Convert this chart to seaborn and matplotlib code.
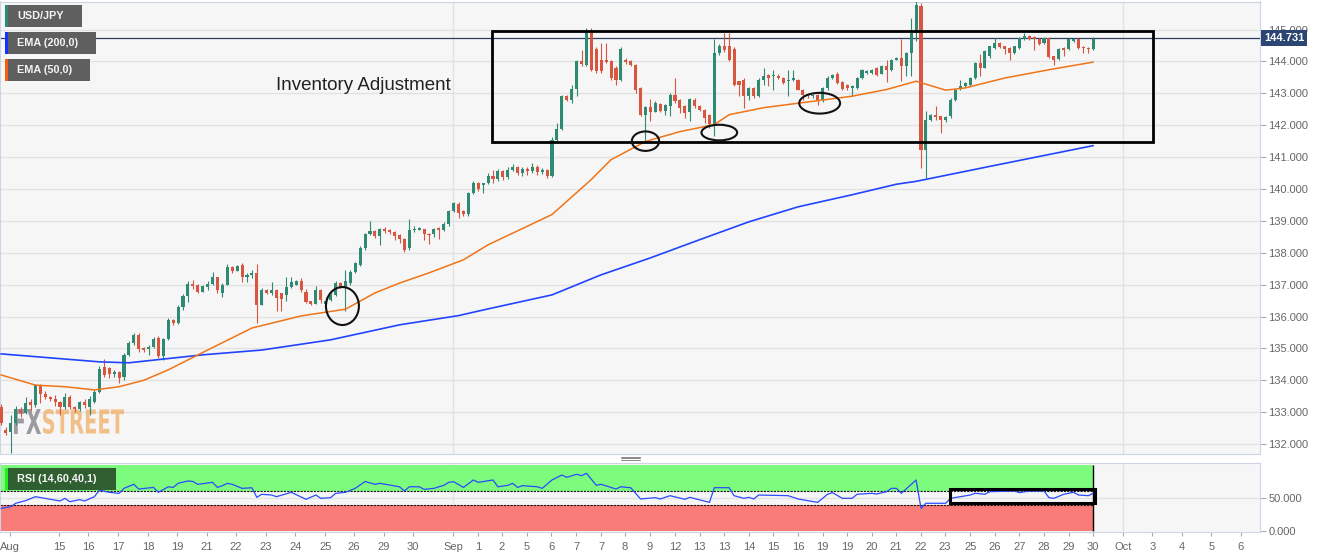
import numpy as np
import pandas as pd
import matplotlib
matplotlib.use('Agg')
import matplotlib.pyplot as plt
import matplotlib.transforms as mtransforms
from matplotlib.patches import Rectangle, Ellipse, PathPatch
from matplotlib.lines import Line2D
from matplotlib.textpath import TextPath
from matplotlib.font_manager import FontProperties
import seaborn as sns

# USD/JPY 4h candles (Aug 12 - Sep 30)
opens = [
    133.16, 132.44, 132.39, 132.65, 133.07, 132.98, 133.33, 133.23, 133.82, 133.57,
    133.48, 133.41, 133.33, 133.17, 133.49, 133.17, 133.10, 133.33, 133.16, 133.33,
    133.64, 134.43, 134.38, 134.20, 134.25, 134.09, 134.80, 135.16, 135.42, 135.00,
    134.97, 135.06, 135.32, 134.76, 135.29, 135.90, 135.80, 136.31, 136.65, 137.01,
    136.98, 136.78, 136.94, 137.01, 137.23, 136.75, 136.99, 137.55, 137.44, 137.62,
    137.25, 137.30, 137.36, 136.37, 136.82, 136.73, 136.82, 136.73, 136.68, 136.94,
    137.00, 137.10, 136.78, 136.48, 136.40, 136.84, 136.40, 136.52, 136.68, 137.05,
    136.94, 137.05, 137.41, 137.62, 138.15, 138.60, 138.69, 138.53, 138.75, 138.72,
    138.66, 138.56, 138.43, 138.15, 138.72, 138.72, 138.74, 138.60, 138.60, 138.77,
    138.72, 138.91, 139.32, 139.54, 139.32, 139.22, 139.89, 140.19, 140.13, 140.19,
    140.42, 140.30, 140.55, 140.38, 140.60, 140.68, 140.50, 140.62, 140.55, 140.70,
    140.52, 140.60, 140.42, 141.55, 141.88, 142.91, 142.80, 143.14, 144.01, 143.90,
    144.93, 144.40, 144.06, 144.06, 144.01, 143.80, 143.43, 144.06, 144.01, 143.90,
    143.17, 142.33, 142.56, 142.43, 142.68, 142.45, 142.59, 142.96, 142.80, 142.60,
    142.40, 142.80, 142.59, 142.49, 142.33, 142.02, 144.27, 144.48, 144.48, 144.40,
    143.38, 143.43, 142.91, 143.17, 142.91, 143.43, 143.56, 143.53, 143.55, 143.48,
    143.38, 143.43, 143.43, 143.12, 142.98, 142.91, 142.96, 142.80, 143.17, 143.48,
    143.62, 143.35, 143.27, 143.18, 143.17, 143.48, 143.64, 143.64, 143.80, 143.62,
    143.85, 143.74, 144.06, 144.11, 143.85, 144.27, 144.90, 145.73, 141.23, 142.17,
    142.33, 142.28, 142.17, 142.28, 142.80, 143.14, 143.24, 143.27, 143.48, 143.95,
    143.80, 144.16, 144.42, 144.58, 144.48, 144.42, 144.27, 144.42, 144.71, 144.79,
    144.77, 144.69, 144.58, 144.74, 144.16, 144.08, 144.42, 144.39, 144.63, 144.71,
    144.46, 144.42, 144.39]
closes = [
    132.66, 132.36, 132.67, 133.09, 132.98, 133.28, 133.23, 133.85, 133.57, 133.48,
    133.43, 133.33, 133.17, 133.49, 133.17, 133.10, 133.31, 133.23, 133.40, 133.64,
    134.37, 134.17, 134.20, 134.27, 134.06, 134.80, 135.16, 135.42, 134.97, 134.95,
    135.06, 135.29, 134.76, 135.29, 135.90, 135.80, 136.31, 136.65, 137.01, 136.95,
    136.78, 136.96, 137.01, 137.23, 136.82, 137.00, 137.55, 137.44, 137.59, 137.25,
    137.29, 137.38, 136.37, 136.84, 136.75, 136.84, 136.58, 136.54, 136.94, 137.07,
    137.12, 136.82, 136.47, 136.40, 136.82, 136.52, 136.50, 136.68, 137.05, 136.94,
    137.10, 137.41, 137.67, 138.15, 138.60, 138.69, 138.53, 138.74, 138.67, 138.64,
    138.53, 138.43, 138.09, 138.72, 138.75, 138.77, 138.60, 138.56, 138.74, 138.70,
    138.91, 139.32, 139.56, 139.24, 139.22, 139.89, 140.19, 140.00, 140.19, 140.42,
    140.30, 140.55, 140.38, 140.60, 140.68, 140.50, 140.62, 140.55, 140.70, 140.52,
    140.60, 140.42, 141.55, 141.88, 142.93, 142.80, 143.14, 144.01, 143.92, 144.93,
    143.74, 143.69, 143.69, 143.97, 143.48, 143.43, 144.40, 143.97, 143.90, 143.12,
    142.33, 142.56, 142.43, 142.70, 142.45, 142.62, 142.96, 142.75, 142.54, 142.38,
    142.83, 142.59, 142.49, 142.23, 142.05, 144.27, 144.48, 144.35, 144.06, 143.27,
    143.27, 142.91, 143.17, 142.91, 143.43, 143.53, 143.48, 143.55, 143.48, 143.33,
    143.43, 143.48, 143.12, 142.96, 142.91, 142.96, 142.80, 143.17, 143.48, 143.59,
    143.33, 143.14, 143.16, 143.24, 143.48, 143.74, 143.69, 143.72, 143.59, 143.85,
    143.74, 144.06, 144.11, 143.85, 144.27, 144.90, 145.78, 141.23, 142.17, 142.33,
    142.26, 142.17, 142.25, 142.80, 143.12, 143.24, 143.33, 143.48, 143.95, 143.80,
    144.32, 144.48, 144.58, 144.46, 144.39, 144.27, 144.48, 144.74, 144.79, 144.69,
    144.69, 144.56, 144.74, 144.14, 144.06, 144.39, 144.37, 144.69, 144.71, 144.42,
    144.42, 144.39, 144.71]
highs = [
    133.25, 132.55, 132.90, 133.20, 133.15, 133.48, 133.40, 133.90, 133.90, 133.65,
    133.52, 133.55, 133.35, 133.60, 133.55, 133.20, 133.36, 133.40, 133.50, 133.70,
    134.45, 134.66, 134.42, 134.32, 134.28, 134.85, 135.22, 135.50, 135.48, 135.05,
    135.10, 135.35, 135.38, 135.32, 135.95, 135.92, 136.35, 136.70, 137.12, 137.15,
    137.02, 136.98, 137.10, 137.41, 137.25, 137.05, 137.64, 137.58, 137.62, 137.68,
    137.38, 137.46, 137.64, 136.88, 136.85, 137.07, 136.86, 136.75, 137.23, 137.23,
    137.15, 137.20, 136.85, 136.50, 136.95, 136.87, 136.60, 136.75, 137.10, 137.08,
    137.47, 137.45, 137.70, 138.20, 138.62, 139.00, 138.70, 138.78, 138.80, 138.74,
    138.68, 138.58, 138.45, 139.06, 138.85, 138.82, 138.76, 138.62, 138.78, 138.80,
    138.95, 139.35, 139.60, 139.58, 139.35, 139.92, 140.24, 140.22, 140.20, 140.50,
    140.60, 140.62, 140.60, 140.70, 140.78, 140.72, 140.70, 140.68, 140.80, 140.74,
    140.66, 140.62, 141.63, 142.07, 142.96, 142.96, 143.27, 144.06, 144.37, 145.05,
    145.05, 144.45, 144.58, 144.58, 144.06, 143.85, 144.45, 144.10, 144.05, 143.93,
    143.20, 142.60, 142.82, 142.75, 142.70, 142.66, 143.00, 143.48, 142.82, 142.63,
    142.86, 142.86, 142.62, 142.52, 142.36, 144.69, 144.55, 144.90, 144.90, 144.45,
    143.40, 143.48, 143.20, 143.20, 143.48, 143.80, 143.60, 143.74, 143.60, 143.52,
    143.74, 143.74, 143.45, 143.15, 143.00, 142.98, 142.98, 143.20, 143.55, 143.62,
    143.66, 143.38, 143.30, 143.27, 143.50, 143.77, 143.72, 143.75, 143.82, 143.88,
    144.06, 144.08, 144.14, 144.69, 144.30, 145.37, 145.89, 145.84, 142.44, 142.36,
    142.59, 142.30, 142.28, 142.84, 143.15, 143.43, 143.36, 143.50, 143.98, 144.22,
    144.35, 144.50, 144.74, 144.62, 144.50, 144.45, 144.50, 144.77, 144.90, 144.82,
    144.80, 144.72, 144.77, 144.77, 144.18, 144.42, 144.45, 144.72, 144.74, 144.74,
    144.48, 144.45, 144.77]
lows = [
    132.60, 132.30, 131.72, 132.60, 132.85, 132.95, 133.05, 133.15, 133.30, 133.40,
    133.36, 133.20, 132.90, 133.10, 133.10, 133.00, 133.05, 133.12, 132.90, 133.30,
    133.60, 134.10, 134.06, 134.12, 133.91, 134.00, 134.75, 135.10, 134.90, 134.90,
    134.80, 135.00, 134.70, 134.64, 135.25, 135.75, 135.78, 136.20, 136.45, 136.85,
    136.75, 136.76, 136.84, 136.98, 136.73, 136.60, 136.98, 137.36, 137.42, 137.07,
    137.07, 137.20, 135.81, 136.35, 136.70, 136.68, 136.16, 136.19, 136.50, 136.90,
    136.98, 136.78, 136.42, 136.35, 136.38, 136.42, 136.35, 136.50, 136.65, 136.90,
    136.16, 137.00, 137.38, 137.60, 138.10, 138.55, 138.45, 138.25, 138.62, 138.58,
    138.39, 138.32, 138.04, 138.10, 138.65, 138.70, 138.41, 138.28, 138.50, 138.43,
    138.68, 138.85, 139.28, 139.09, 139.15, 139.15, 139.85, 139.95, 139.87, 140.15,
    140.20, 140.25, 140.28, 140.30, 140.55, 140.45, 140.40, 140.45, 140.50, 140.45,
    140.48, 140.35, 140.38, 141.50, 141.85, 142.75, 142.70, 142.91, 143.87, 143.85,
    143.69, 143.64, 143.64, 143.95, 143.43, 143.27, 143.40, 143.92, 143.87, 143.01,
    142.28, 141.49, 142.12, 142.40, 142.40, 142.33, 142.30, 142.70, 142.38, 142.23,
    142.12, 142.55, 142.45, 142.07, 141.91, 141.65, 144.20, 144.30, 144.00, 143.22,
    142.91, 142.54, 142.80, 142.85, 142.88, 143.27, 143.22, 143.12, 143.45, 143.28,
    142.91, 143.38, 143.10, 142.80, 142.85, 142.86, 142.65, 142.73, 143.10, 143.45,
    143.30, 143.10, 143.12, 142.91, 143.14, 143.45, 143.60, 143.60, 143.55, 143.60,
    143.35, 143.70, 144.04, 143.38, 143.53, 143.53, 144.63, 140.66, 140.34, 142.14,
    142.17, 141.76, 142.10, 142.24, 142.76, 143.10, 143.20, 143.24, 143.45, 143.53,
    143.78, 144.12, 144.40, 144.42, 144.22, 144.06, 144.24, 144.40, 144.68, 144.66,
    144.37, 144.52, 144.55, 144.10, 143.90, 144.05, 144.16, 144.36, 144.60, 144.38,
    144.27, 144.27, 144.36]

# moving averages read at a few candles
ema50_idx = [0, 7, 13, 19, 24, 29, 34, 42, 51, 61, 70, 76, 81, 87, 94, 99, 112, 120,
             124, 131, 138, 145, 148, 155, 165, 173, 180, 186, 192, 196, 204, 213, 222]
ema50_val = [134.17, 133.85, 133.80, 133.70, 133.80, 134.00, 134.33, 134.95, 135.64,
             136.02, 136.23, 136.74, 137.05, 137.37, 137.78, 138.25, 139.20, 140.30,
             140.92, 141.49, 141.80, 142.02, 142.33, 142.55, 142.75, 142.91, 143.12,
             143.38, 143.10, 143.17, 143.48, 143.74, 143.98]
ema200_idx = [0, 20, 26, 41, 53, 67, 81, 93, 99, 112, 122, 132, 142, 152, 162, 173,
              182, 186, 201, 222]
ema200_val = [134.83, 134.58, 134.55, 134.80, 134.95, 135.27, 135.74, 136.03, 136.24,
              136.68, 137.31, 137.84, 138.41, 138.97, 139.44, 139.82, 140.15, 140.24,
              140.71, 141.36]

# RSI (14)
rsi_idx = [0, 2, 3, 5, 7, 12, 13, 14, 16, 17, 19, 20, 22, 24, 25, 27, 28, 31, 32, 34,
           35, 36, 38, 39, 40, 43, 44, 45, 46, 47, 49, 51, 52, 53, 55, 56, 59, 62, 64,
           65, 67, 68, 70, 72, 74, 76, 77, 81, 82, 83, 85, 86, 88, 90, 91, 92, 94, 96,
           97, 100, 101, 103, 104, 105, 106, 109, 110, 112, 114, 115, 117, 118, 119,
           121, 122, 125, 126, 128, 130, 133, 134, 136, 139, 140, 144, 145, 148, 149,
           151, 152, 153, 154, 160, 162, 164, 166, 168, 169, 171, 173, 174, 177, 178,
           180, 181, 182, 183, 186, 187, 188, 192, 193, 195, 197, 198, 200, 201, 206,
           207, 209, 212, 213, 214, 216, 218, 219, 221, 222]
rsi_val = [34.3, 36.9, 42, 46, 52, 45.5, 49.5, 44.4, 47.5, 45.5, 52, 62, 58.6, 57, 64.6,
           70.7, 63.6, 66, 58.6, 67, 66, 72.2, 75.8, 75, 70.7, 73.7, 66, 68.7, 72.2, 70.7,
           64.6, 65.5, 51, 55.6, 54.5, 52, 58.6, 48, 54.5, 49.5, 50.5, 57, 58.6, 64.6, 75,
           70.7, 72.2, 67, 60.6, 67, 67, 63.1, 64.6, 69.2, 73.7, 74.7, 66, 77.3, 73.7, 77.3,
           67, 69.2, 72.2, 66, 68.7, 67, 64.6, 77.3, 84.8, 81.3, 85.9, 83.8, 87.4, 69.2, 70.7,
           63.6, 67, 65.5, 48.5, 50.5, 48.5, 53.5, 48, 51, 43.4, 65.6, 65.6, 53.5, 49.5, 51,
           48.5, 54.5, 53.5, 48.5, 46, 43.4, 55.6, 58.1, 49.5, 49.5, 55.6, 57.1, 56, 59.6,
           64.6, 64.6, 57.1, 77.3, 34.3, 42, 42, 49.5, 52, 54.5, 57.1, 55.6, 59.6, 60.6,
           58.1, 60.6, 60.6, 50.5, 49.5, 55.6, 58.6, 54.5, 53.5, 57.1]

# time axis (candle index of each label)
day_labels = ['Aug', '15', '16', '17', '18', '19', '21', '22', '23', '24', '25', '26', '29',
              '30', 'Sep', '1', '2', '5', '6', '7', '7', '8', '9', '12', '13', '13', '14',
              '15', '16', '19', '19', '20', '21', '22', '23', '25', '26', '27', '28', '29',
              '30', 'Oct', '3', '4', '5', '6']
day_pos = [1.8, 11.8, 17.7, 23.8, 29.9, 35.8, 41.9, 47.8, 53.9, 59.8, 65.9, 71.7, 77.8,
           83.7, 91.9, 97.0, 101.8, 106.9, 111.8, 116.9, 122.0, 126.8, 131.9, 137.0,
           142.0, 147.0, 152.0, 156.9, 162.0, 167.0, 172.0, 177.0, 181.9, 187.0, 191.9,
           197.0, 202.0, 207.0, 212.0, 217.0, 222.0, 228.0, 234.0, 240.0, 246.0, 252.0]
month_pos = [91.9, 228.0]
last_price = 144.731

GREEN = '#2e8a72'
RED = '#d8553f'
BLUE = '#2244ff'
ORANGE = '#f07418'

sns.set_style('white', {'axes.facecolor': '#f6f6f6'})
plt.rcParams['font.family'] = ['Liberation Sans', 'DejaVu Sans']

W, H = 1331, 558
fig = plt.figure(figsize=(W / 100, H / 100), dpi=100)
ax = fig.add_axes([0, 1 - 454 / H, 1260 / W, 452.5 / H])
ax_rsi = fig.add_axes([0, 1 - 532 / H, 1260 / W, 69 / H], sharex=ax)

df = pd.DataFrame({'open': opens, 'high': highs, 'low': lows, 'close': closes})
df['idx'] = np.arange(len(df))
df['high'] = df[['high', 'open', 'close']].max(axis=1)
df['low'] = df[['low', 'open', 'close']].min(axis=1)
cols = np.where(df.close >= df.open, GREEN, RED)

# grid
for y in range(132, 146):
    ax.axhline(y, color='#e2e2e2', lw=1, zorder=0)
for m in month_pos:
    ax.axvline(m, color='#e2e2e2', lw=1, zorder=0)
    ax_rsi.axvline(m, color='#e2e2e2', lw=1, zorder=0)

# candles
ax.vlines(df.idx, df.low, df.high, colors=cols, lw=0.8, zorder=3)
ax.bar(df.idx, (df.close - df.open).abs().clip(lower=0.03),
       bottom=df[['open', 'close']].min(axis=1), width=0.62, color=cols,
       linewidth=0, zorder=4)

sns.lineplot(x=ema200_idx, y=ema200_val, ax=ax, color=BLUE, lw=1.2, zorder=5)
sns.lineplot(x=ema50_idx, y=ema50_val, ax=ax, color=ORANGE, lw=1.1, zorder=5)

ax.axhline(last_price, color='#2b3d63', lw=0.9, zorder=2.5)

# annotations
ax.add_patch(Rectangle((99.8, 141.48), 134.3, 3.46, fill=False, ec='black', lw=2, zorder=6))
for cx, cy, w, h in [(69.4, 136.33, 6.7, 1.19), (131.0, 141.5, 5.55, 0.61),
                     (146.0, 141.77, 7.25, 0.49), (166.4, 142.69, 8.3, 0.65)]:
    ax.add_patch(Ellipse((cx, cy), w, h, fill=False, ec='#111111', lw=1.5, zorder=6))
ax.text(55.9, 143.24, 'Inventory Adjustment', fontsize=13.5, color='#222222',
        va='center', ha='left', zorder=6)

ax.set_xlim(-0.2, 255.9)
ax.set_ylim(131.69, 145.88)
ax.yaxis.tick_right()
ax.set_yticks(range(132, 146))
ax.set_yticklabels([f'{v:.3f}' for v in range(132, 146)])
ax.tick_params(axis='y', length=4, width=0.8, color='#aaaaaa', labelcolor='#666666',
               labelsize=8, pad=2)
ax.tick_params(axis='x', bottom=False, labelbottom=False)
ax.set_xlabel('')
ax.set_ylabel('')
for s in ax.spines.values():
    s.set_color('#cdd4e6')

trans = mtransforms.blended_transform_factory(ax.transAxes, ax.transData)
ax.text(1.003, last_price, '144.731', transform=trans, color='white', fontsize=8,
        fontweight='bold', va='center', ha='left', zorder=7,
        bbox=dict(boxstyle='square,pad=0.28', fc='#2b4673', ec='none'))

# RSI panel
last_i = len(df) - 1
ax_rsi.add_patch(Rectangle((-0.2, 60), last_i + 0.2, 40, color='#7cfb7c', lw=0, zorder=1))
ax_rsi.add_patch(Rectangle((-0.2, 0), last_i + 0.2, 40, color='#f97c79', lw=0, zorder=1))
ax_rsi.axhline(50, color='#e2e2e2', lw=1, zorder=0.5)
ax_rsi.hlines([40, 60], -0.2, last_i, colors='#111111', linestyles=(0, (2, 1)), lw=0.8,
              zorder=2)
ax_rsi.vlines(last_i, 0, 100, colors='black', lw=1, zorder=2)
sns.lineplot(x=rsi_idx, y=rsi_val, ax=ax_rsi, color='#2a4bff', lw=0.9, zorder=3)
ax_rsi.add_patch(Rectangle((192.9, 42), 29.4, 21.2, fill=False, ec='black', lw=2.2, zorder=4))
ax_rsi.set_ylim(-1.5, 103)
ax_rsi.yaxis.tick_right()
ax_rsi.set_yticks([0, 50])
ax_rsi.set_yticklabels(['0.000', '50.000'])
ax_rsi.set_xticks(day_pos)
ax_rsi.set_xticklabels(day_labels)
ax_rsi.tick_params(axis='y', length=4, width=0.8, color='#aaaaaa', labelcolor='#666666',
                   labelsize=8, pad=2)
ax_rsi.tick_params(axis='x', bottom=True, length=3, width=0.8, color='#aaaaaa',
                   labelcolor='#666666', labelsize=8, pad=4)
ax_rsi.set_xlabel('')
ax_rsi.set_ylabel('')
for s in ax_rsi.spines.values():
    s.set_color('#cdd4e6')


def fx(x):
    return x / W


def fy(y):
    return 1 - y / H


# legend tags (top-left)
for (x0, y0, x1, y1, bg, stripe, label) in [
        (5, 5, 82, 27, '#5f5f5f', '#2e8a72', 'USD/JPY'),
        (5, 32, 96, 54, '#5f5f5f', '#1133ff', 'EMA (200,0)'),
        (5, 59, 90, 81, '#5f5f5f', '#f06010', 'EMA (50,0)'),
        (5, 468, 116, 490, '#2f5f30', '#22ee22', 'RSI (14,60,40,1)')]:
    fig.add_artist(Rectangle((fx(x0), fy(y1)), fx(x1 - x0), (y1 - y0) / H,
                             transform=fig.transFigure, color=bg, lw=0, zorder=10))
    fig.add_artist(Rectangle((fx(x0), fy(y1)), fx(2.5), (y1 - y0) / H,
                             transform=fig.transFigure, color=stripe, lw=0, zorder=11))
    fig.text(fx(x0 + 12), fy((y0 + y1) / 2), label, color='#f4f4f4', fontsize=7.8,
             fontweight='bold', va='center', ha='left', zorder=12)

# panel handle
for yy in (456.5, 458, 459.5):
    fig.add_artist(Line2D([fx(621), fx(640)], [fy(yy), fy(yy)], transform=fig.transFigure,
                          color='#888888', lw=0.7))

# watermark
fp = FontProperties(family='DejaVu Sans', weight='bold')
for word, (x0, x1), col, alpha in [('FX', (14, 41), '#7c7c84', 0.75),
                                   ('STREET', (43, 124), '#f0a95a', 0.7)]:
    tp = TextPath((0, 0), word, size=40, prop=fp)
    ext = tp.get_extents()
    tr = (mtransforms.Affine2D().translate(-ext.x0, -ext.y0)
          .scale((x1 - x0) / ext.width, 25 / ext.height)
          .translate(x0, H - 434))
    ax.add_patch(PathPatch(tp, transform=tr, color=col, alpha=alpha, lw=0, zorder=2,
                           clip_on=False))

fig.savefig('out.png', dpi=100, facecolor='white')
